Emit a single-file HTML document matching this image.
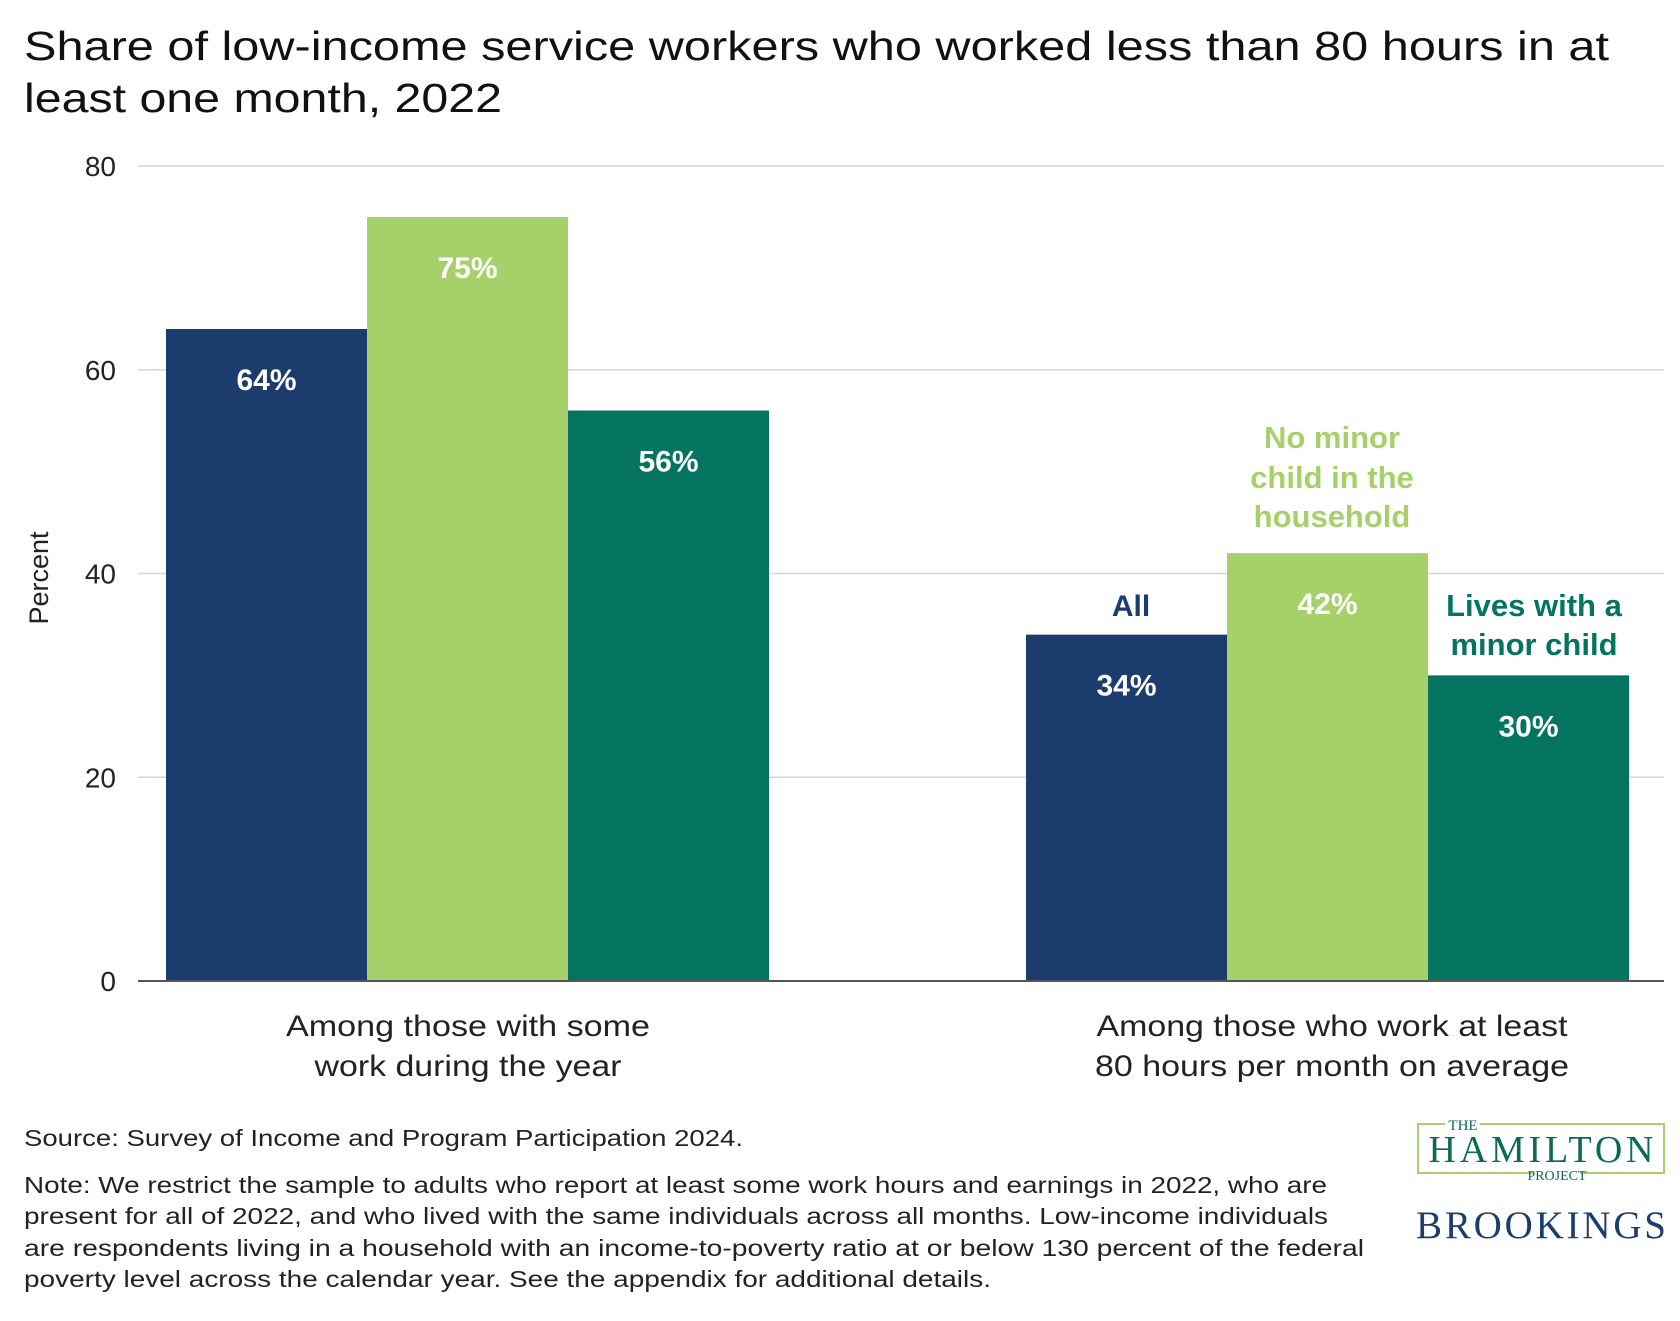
<!DOCTYPE html>
<html><head><meta charset="utf-8"><style>
html,body{margin:0;padding:0;background:#fff;}
svg{display:block;font-family:"Liberation Sans",sans-serif;}
</style></head><body>
<svg id="chart" width="1680" height="1321" viewBox="0 0 1680 1321">
<text x="24" y="60" font-size="41" fill="#111" textLength="1585" lengthAdjust="spacingAndGlyphs">Share of low-income service workers who worked less than 80 hours in at</text>
<text x="24" y="112" font-size="41" fill="#111" textLength="478" lengthAdjust="spacingAndGlyphs">least one month, 2022</text>
<g id="grid"></g>
<g id="bars"></g>
<text transform="translate(48,578) rotate(-90)" text-anchor="middle" font-size="27" fill="#222">Percent</text>
<text x="468" y="1036" text-anchor="middle" font-size="30" fill="#222" textLength="364" lengthAdjust="spacingAndGlyphs">Among those with some</text>
<text x="468" y="1076" text-anchor="middle" font-size="30" fill="#222" textLength="307" lengthAdjust="spacingAndGlyphs">work during the year</text>
<text x="1332" y="1036" text-anchor="middle" font-size="30" fill="#222" textLength="471" lengthAdjust="spacingAndGlyphs">Among those who work at least</text>
<text x="1332" y="1076" text-anchor="middle" font-size="30" fill="#222" textLength="474" lengthAdjust="spacingAndGlyphs">80 hours per month on average</text>
<text x="1131" y="616" text-anchor="middle" font-size="30" font-weight="bold" fill="#1d3c6e">All</text>
<g font-size="31" font-weight="bold" fill="#a6d16a" text-anchor="middle">
<text x="1332" y="448">No minor</text><text x="1332" y="488">child in the</text><text x="1332" y="527">household</text></g>
<g font-size="31" font-weight="bold" fill="#047461" text-anchor="middle">
<text x="1534" y="616">Lives with a</text><text x="1534" y="655">minor child</text></g>
<text x="24" y="1146" font-size="23.5" fill="#222" textLength="719" lengthAdjust="spacingAndGlyphs">Source: Survey of Income and Program Participation 2024.</text>
<g font-size="23.5" fill="#222" lengthAdjust="spacingAndGlyphs">
<text x="24" y="1193" textLength="1303" lengthAdjust="spacingAndGlyphs">Note: We restrict the sample to adults who report at least some work hours and earnings in 2022, who are</text>
<text x="24" y="1224" textLength="1304" lengthAdjust="spacingAndGlyphs">present for all of 2022, and who lived with the same individuals across all months. Low-income individuals</text>
<text x="24" y="1256" textLength="1340" lengthAdjust="spacingAndGlyphs">are respondents living in a household with an income-to-poverty ratio at or below 130 percent of the federal</text>
<text x="24" y="1287" textLength="967" lengthAdjust="spacingAndGlyphs">poverty level across the calendar year. See the appendix for additional details.</text></g>
<g>
<path d="M1445 1124 H1418 V1173 H1534 M1580 1173 H1664 V1124 H1480" fill="none" stroke="#a6d16a" stroke-width="2"/>
<text x="1463" y="1130" text-anchor="middle" font-size="15" font-family="Liberation Serif,serif" fill="#0a6a55">THE</text>
<text x="1541" y="1162" text-anchor="middle" font-size="38" font-family="Liberation Serif,serif" fill="#0a6a55" textLength="225">HAMILTON</text>
<text x="1557" y="1180" text-anchor="middle" font-size="14" font-family="Liberation Serif,serif" fill="#0a6a55">PROJECT</text>
</g>
<text x="1541" y="1238" text-anchor="middle" font-size="39" font-family="Liberation Serif,serif" fill="#1d3c6e" textLength="250">BROOKINGS</text>
</svg>
<script>
const ticks=[0,20,40,60,80];
const groups=["Among those with some work during the year","Among those who work at least 80 hours per month on average"];
const seriesAll=[64,34];
const seriesNoChild=[75,42];
const seriesChild=[56,30];
const valueLabels=[["64%","34%"],["75%","42%"],["56%","30%"]];
const NS="http://www.w3.org/2000/svg";
const y=v=>981-v*(815/80);
const groupStart=[166,1026];const bw=201;
const colors=["#1d3c6e","#a6d16a","#047461"];
const names=["all","no-minor-child","lives-with-minor-child"];
const grid=document.getElementById('grid'),bars=document.getElementById('bars');
function mk(t,a,p){const e=document.createElementNS(NS,t);for(const k in a)e.setAttribute(k,a[k]);p.appendChild(e);return e;}
ticks.forEach(t=>{
 if(t>0){const l=mk('line',{x1:138,x2:1664,y1:y(t),y2:y(t),stroke:'#d6d6d6','stroke-width':1.5},grid);
 
 }
 const tx=mk('text',{x:116,y:y(t)+10,'text-anchor':'end','font-size':28,fill:'#222'},grid);tx.textContent=t;
 
 
});
[seriesAll,seriesNoChild,seriesChild].forEach((s,si)=>{
 s.forEach((v,gi)=>{
  const x=groupStart[gi]+si*bw;
  const r=mk('rect',{x:x,y:y(v),width:bw,height:y(0)-y(v),fill:colors[si]},bars);
  
  
  const t=mk('text',{x:x+bw/2,y:y(v)+61,'text-anchor':'middle','font-size':30,'font-weight':'bold',fill:'#fff'},bars);
  t.textContent=valueLabels[si][gi];
  
  
 });
});
const ax=mk('line',{x1:138,x2:1664,y1:y(0),y2:y(0),stroke:'#555','stroke-width':2},bars);


</script>
</body></html>
